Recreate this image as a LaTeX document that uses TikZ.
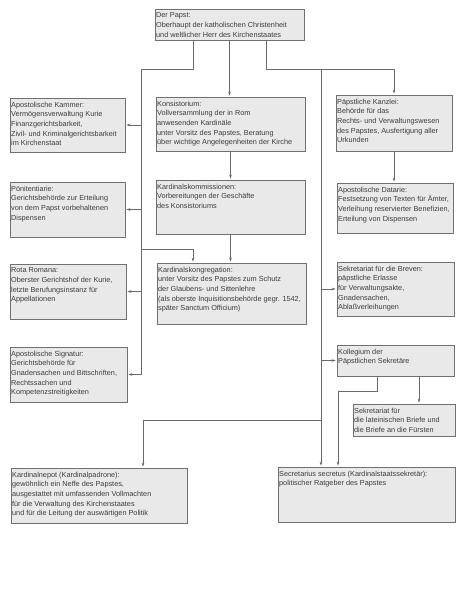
\documentclass[tikz,border=0pt]{standalone}
\usepackage{fontspec}
\setmainfont{Liberation Sans}
\usetikzlibrary{fit,arrows.meta}
\definecolor{boxfill}{HTML}{E9E9E9}
\definecolor{boxline}{HTML}{707070}
\definecolor{linecol}{HTML}{6A6A6A}
\definecolor{txtcol}{HTML}{3C3C3C}
\tikzset{
  box/.style={draw=boxline, fill=boxfill, line width=0.7pt, inner sep=0pt},
  txt/.style={anchor=north west, align=left, inner xsep=1.3pt, inner ysep=4pt,
    font=\fontsize{7.3}{9.65}\selectfont, text=txtcol},
  conn/.style={draw=linecol, line width=0.6pt},
  arr/.style={conn, -{Stealth[length=4pt,width=2.6pt]}, shorten >=1pt},
}
\newcommand\ubox[6]{%
  \node[box, fit={(#2,#3) (#4,#5)}] (#1) {};
  \node[txt] (#1-t) at (#1.north west) {#6};}
\begin{document}
\begin{tikzpicture}[x=1pt,y=-1pt]
\useasboundingbox (0,0) rectangle (466,600);
\fill[white] (0,0) rectangle (466,600);

\ubox{papst}{155}{9}{304}{40}{Der Papst:\\Oberhaupt der katholischen Christenheit\\und weltlicher Herr des Kirchenstaates}
\ubox{kammer}{10}{98}{125}{152}{Apostolische Kammer:\\Vermögensverwaltung Kurie\\Finanzgerichtsbarkeit,\\Zivil- und Kriminalgerichtsbarkeit\\im Kirchenstaat}
\ubox{poen}{10}{182}{125}{237}{Pönitentiarie:\\Gerichtsbehörde zur Erteilung\\von dem Papst vorbehaltenen\\Dispensen}
\ubox{rota}{10}{264}{126}{319}{Rota Romana:\\Oberster Gerichtshof der Kurie,\\letzte Berufungsinstanz für\\Appellationen}
\ubox{signatur}{10}{347}{127}{402}{Apostolische Signatur:\\Gerichtsbehörde für\\Gnadensachen und Bittschriften,\\Rechtssachen und\\Kompetenzstreitigkeiten}
\ubox{konsist}{156}{97}{305}{151}{Konsistorium:\\Vollversammlung der in Rom\\anwesenden Kardinäle\\unter Vorsitz des Papstes, Beratung\\über wichtige Angelegenheiten der Kirche}
\ubox{kommiss}{156}{180}{305}{234}{Kardinalskommissionen:\\Vorbereitungen der Geschäfte\\des Konsistoriums}
\ubox{kongreg}{157}{263}{306}{324}{Kardinalskongregation:\\unter Vorsitz des Papstes zum Schutz\\der Glaubens- und Sittenlehre\\(als oberste Inquisitionsbehörde gegr. 1542,\\später Sanctum Officium)}
\ubox{kanzlei}{336}{95}{452}{151}{Päpstliche Kanzlei:\\Behörde für das\\Rechts- und Verwaltungswesen\\des Papstes, Ausfertigung aller\\Urkunden}
\ubox{datarie}{337}{183}{453}{233}{Apostolische Datarie:\\Festsetzung von Texten für Ämter,\\Verleihung reservierter Benefizien,\\Erteilung von Dispensen}
\ubox{breven}{337}{262}{454}{316}{Sekretariat für die Breven:\\päpstliche Erlasse\\für Verwaltungsakte,\\Gnadensachen,\\Ablaßverleihungen}
\ubox{kolleg}{337}{345}{454}{376}{Kollegium der\\Päpstlichen Sekretäre}
\ubox{latein}{353}{404}{455}{436}{Sekretariat für\\die lateinischen Briefe und\\die Briefe an die Fürsten}
\ubox{nepot}{11}{468}{187}{523}{Kardinalnepot (Kardinalpadrone):\\gewöhnlich ein Neffe des Papstes,\\ausgestattet mit umfassenden Vollmachten\\für die Verwaltung des Kirchenstaates\\und für die Leitung der auswärtigen Politik}
\ubox{secret}{278}{467}{455}{522}{Secretarius secretus (Kardinalstaatssekretär):\\politischer Ratgeber des Papstes}

\coordinate (jL) at (141,69);
\coordinate (jR) at (394,69);
\coordinate (jM) at (321,69);
\coordinate (jK) at (141,249);
\coordinate (jN) at (321,420);
\coordinate (jS) at (338,391);

% left spine
\draw[conn] ([xshift=-36.5pt]papst.south) |- (jL) -- (jL |- signatur.east);
\draw[arr] (jL |- kammer.east) -- (kammer.east);
\draw[arr] (jL |- poen.east) -- (poen.east);
\draw[arr] (jL |- rota.east) -- (rota.east);
\draw[arr] (jL |- signatur.east) -- (signatur.east);
\draw[arr] (jK) -| ([xshift=-38.5pt]kongreg.north);

% middle
\draw[arr] (papst.south) -- (papst.south |- konsist.north);
\draw[arr] (konsist.south) -- (konsist.south |- kommiss.north);
\draw[arr] (kommiss.south) -- (kommiss.south |- kongreg.north);

% right
\draw[arr] ([xshift=36.5pt]papst.south) |- (jR) -- (kanzlei.north);
\draw[arr] (kanzlei.south) -- (kanzlei.south |- datarie.north);
\draw[arr] (jM) -- (jM |- secret.north);
\draw[arr] (jM |- breven.west) -- (breven.west);
\draw[arr] (jM |- kolleg.west) -- (kolleg.west);
\draw[arr] (jN) -| ([xshift=44pt]nepot.north);
\draw[arr] ([xshift=-18.5pt]kolleg.south) |- (jS) -- (jS |- secret.north);
\draw[arr] ([xshift=23.5pt]kolleg.south) -- ([xshift=23.5pt]kolleg.south |- latein.north);
\end{tikzpicture}
\end{document}
